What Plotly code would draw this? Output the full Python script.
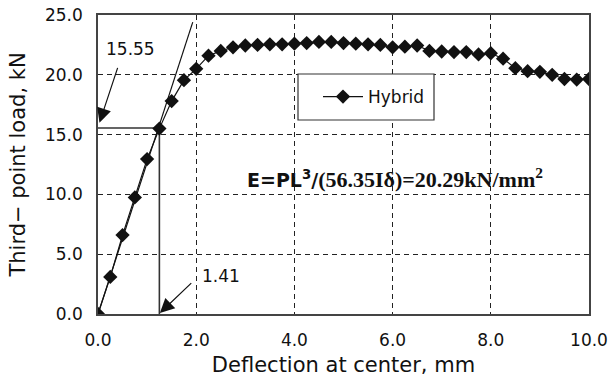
import plotly.graph_objects as go

# ---- data ----
deflection = [0.0, 0.25, 0.5, 0.75, 1.0, 1.25, 1.5, 1.75, 2.0, 2.25, 2.5, 2.75,
              3.0, 3.25, 3.5, 3.75, 4.0, 4.25, 4.5, 4.75, 5.0, 5.25, 5.5, 5.75,
              6.0, 6.25, 6.5, 6.75, 7.0, 7.25, 7.5, 7.75, 8.0, 8.25, 8.5, 8.75,
              9.0, 9.25, 9.5, 9.75, 10.0]
load = [0.0, 3.1, 6.6, 9.75, 12.95, 15.5, 17.8, 19.55, 20.5, 21.6, 22.0, 22.3,
        22.45, 22.5, 22.55, 22.55, 22.6, 22.65, 22.75, 22.75, 22.65, 22.6, 22.55, 22.5,
        22.3, 22.35, 22.45, 22.0, 21.95, 21.9, 21.9, 21.7, 21.8, 21.35, 20.55, 20.3,
        20.25, 20.0, 19.65, 19.6, 19.65]
series_name = "Hybrid"

tangent_x = [0.0, 1.93]
tangent_y = [0.0, 24.4]

ref_load = 15.55
ref_defl = 1.25
ref_load_label = "15.55"
ref_defl_label = "1.41"

x_ticks = [0, 2, 4, 6, 8, 10]
x_tick_labels = ["0.0", "2.0", "4.0", "6.0", "8.0", "10.0"]
y_ticks = [0, 5, 10, 15, 20, 25]
y_tick_labels = ["0.0", "5.0", "10.0", "15.0", "20.0", "25.0"]

FONT = "DejaVu Sans"
INK = "#111111"

fig = go.Figure()

# tangent line
fig.add_trace(go.Scatter(x=tangent_x, y=tangent_y, mode="lines",
                         line=dict(color=INK, width=1.2), showlegend=False,
                         hoverinfo="skip"))
# reference lines (horizontal and vertical)
fig.add_trace(go.Scatter(x=[0, ref_defl, ref_defl], y=[ref_load, ref_load, 0],
                         mode="lines", line=dict(color="#333333", width=1.6),
                         showlegend=False, hoverinfo="skip"))
# main series
fig.add_trace(go.Scatter(x=deflection, y=load, mode="lines+markers", name=series_name,
                         line=dict(color=INK, width=1.2),
                         marker=dict(symbol="diamond", size=11, color=INK)))

grid = dict(showgrid=True, gridcolor="#222222", gridwidth=1, griddash="5px,4px")

fig.update_xaxes(range=[0, 10], tickvals=x_ticks, ticktext=x_tick_labels,
                 showline=True, mirror=True, linecolor="#444444", linewidth=1.6,
                 ticks="", ticklabelstandoff=10, zeroline=False, automargin=False,
                 tickfont=dict(family=FONT, size=17, color=INK),
                 title=dict(text="Deflection at center, mm", standoff=8,
                            font=dict(family=FONT, size=21, color=INK)),
                 **grid)
fig.update_yaxes(range=[0, 25], tickvals=y_ticks, ticktext=y_tick_labels,
                 showline=True, mirror=True, linecolor="#444444", linewidth=1.6,
                 ticks="", ticklabelstandoff=10, zeroline=False, automargin=False,
                 tickfont=dict(family=FONT, size=17, color=INK),
                 title=dict(text="Third\u2212 point load, kN", standoff=14,
                            font=dict(family=FONT, size=21, color=INK)),
                 **grid)

# legend box drawn as a rectangle behind the legend
fig.add_shape(type="rect", xref="paper", yref="paper",
              x0=(298 - 98) / 491, x1=(434 - 98) / 491,
              y0=(314 - 120) / 299, y1=(314 - 74) / 299,
              line=dict(color="#333333", width=1.2), fillcolor="white", layer="above")

fig.update_layout(
    width=608, height=382,
    margin=dict(l=98, r=19, t=15, b=68, autoexpand=False),
    paper_bgcolor="white", plot_bgcolor="white",
    showlegend=True,
    legend=dict(x=(318 - 98) / 491, y=(314 - 97) / 299, xanchor="left", yanchor="middle",
                bgcolor="rgba(0,0,0,0)", borderwidth=0, itemwidth=40,
                font=dict(family=FONT, size=17, color=INK)),
    annotations=[
        dict(x=0.03, y=16.0, ax=0.41, ay=20.7, xref="x", yref="y", axref="x", ayref="y",
             text="", showarrow=True, arrowhead=2, arrowsize=2.4, arrowwidth=1.2,
             arrowcolor=INK),
        dict(x=1.26, y=0.08, ax=1.93, ay=2.7, xref="x", yref="y", axref="x", ayref="y",
             text="", showarrow=True, arrowhead=2, arrowsize=2.4, arrowwidth=1.2,
             arrowcolor=INK),
        dict(x=0.66, y=22.15, xref="x", yref="y", text=ref_load_label, showarrow=False,
             font=dict(family=FONT, size=17, color=INK)),
        dict(x=2.07, y=3.2, xref="x", yref="y", text=ref_defl_label, showarrow=False,
             xanchor="left", font=dict(family=FONT, size=17, color=INK)),
        dict(x=(395 - 98) / 491, y=(314 - 178) / 299, xref="paper", yref="paper",
             showarrow=False,
             text="<b>E=PL<sup>3</sup>/<span style='font-family:Liberation Serif;font-size:22px'>(56.35I\u03b4)=20.29kN/mm<sup>2</sup></span></b>",
             font=dict(family=FONT, size=19, color=INK)),
    ],
)

fig.write_html("out.html")
